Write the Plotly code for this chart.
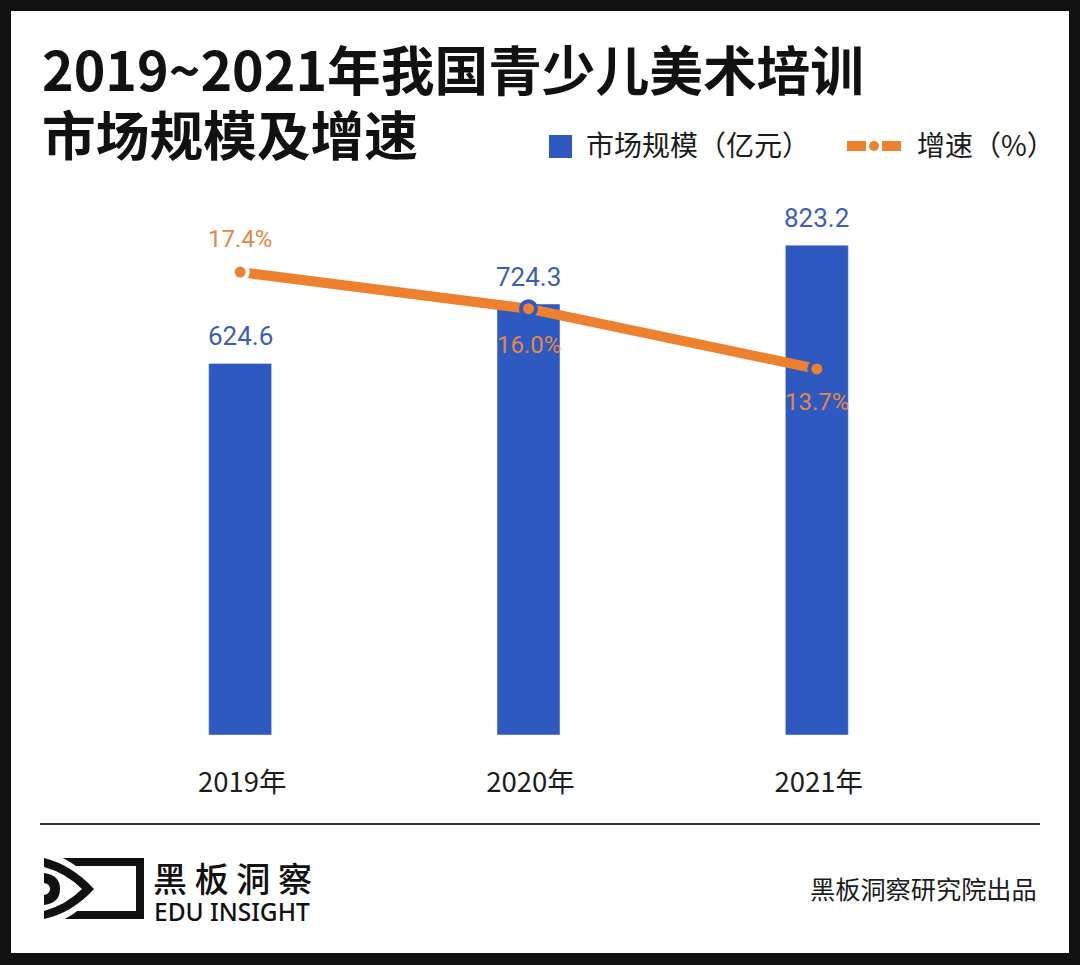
import plotly.graph_objects as go

W, H = 1080, 965
CJK = "Noto Sans CJK SC"
NUM = "Roboto, sans-serif"
BLUE = "#2d59c0"
ORANGE = "#ee8130"
BLUE_TXT = "#3b5fb5"
ORANGE_TXT = "#e58745"

categories = ["2019年", "2020年", "2021年"]
market_size = [624.6, 724.3, 823.2]
growth = [17.4, 16.0, 13.7]
growth_labels = ["17.4%", "16.0%", "13.7%"]
growth_label_shift = [33, -36, -33]
title_lines = ["2019~2021年我国青少儿美术培训", "市场规模及增速"]


def px(x):
    return x / W


def py(y):
    return 1 - y / H


def rect(x0, y0, x1, y1, color, line=None, width=0):
    return dict(type="rect", xref="paper", yref="paper", layer="below",
                x0=px(x0), y0=py(y0), x1=px(x1), y1=py(y1),
                fillcolor=color, line=dict(width=width, color=line or color))


def path(d, color):
    out = []
    for tok in d:
        if isinstance(tok, tuple):
            out.append(f"{px(tok[0]):.5f},{py(tok[1]):.5f}")
        else:
            out.append(tok)
    return dict(type="path", xref="paper", yref="paper", path=" ".join(out),
                fillcolor=color, line=dict(width=0), layer="below")


def text(s, x, y, size, color="#1c1c1c", anchor="left", family=CJK, weight=400):
    return dict(text=s, x=px(x), y=py(y), xref="paper", yref="paper", showarrow=False,
                xanchor=anchor, yanchor="middle",
                font=dict(size=size, color=color, family=family, weight=weight))


fig = go.Figure()
fig.add_trace(go.Bar(
    x=categories, y=market_size, width=63 / 288.5,
    marker=dict(color=BLUE), name="市场规模（亿元）",
))
fig.add_trace(go.Scatter(
    x=categories, y=growth, yaxis="y2", mode="lines+markers", name="增速（%）",
    line=dict(color=ORANGE, width=10), cliponaxis=False,
    marker=dict(size=15, color=ORANGE, line=dict(width=4, color=["#ffffff", BLUE, BLUE])),
))

shapes = [
    rect(11, 11, 1069, 953, "#ffffff"),
    dict(type="line", xref="paper", yref="paper", x0=px(40), x1=px(1040), y0=py(824), y1=py(824),
         line=dict(color="#333333", width=2)),
    # legend keys
    rect(549, 135, 572, 158, BLUE),
    dict(type="line", xref="paper", yref="paper", x0=px(847), x1=px(866), y0=py(146), y1=py(146),
         line=dict(color=ORANGE, width=10)),
    dict(type="line", xref="paper", yref="paper", x0=px(882), x1=px(901), y0=py(146), y1=py(146),
         line=dict(color=ORANGE, width=10)),
    dict(type="circle", xref="paper", yref="paper", x0=px(869), x1=px(879), y0=py(151), y1=py(141),
         fillcolor=ORANGE, line=dict(width=0)),
    # logo
    rect(44, 858, 144, 919, "#111111"),
    rect(44, 866, 136, 911, "#ffffff"),
    path(["M", (44, 852), "Q", (76, 858), (98, 889), "Q", (76, 920), (44, 926), "Z"], "#ffffff"),
    path(["M", (44, 858), "Q", (72, 865), (94, 889), "Q", (72, 913), (44, 919), "Z"], "#111111"),
    path(["M", (44, 867), "Q", (66, 873), (82, 889), "Q", (66, 905), (44, 911), "Z"], "#ffffff"),
    path(["M", (44, 873), "Q", (60, 875), (60, 889), "Q", (60, 903), (44, 905), "Z"], "#111111"),
    path(["M", (44, 883), "Q", (50, 884), (50, 889), "Q", (50, 894), (44, 895), "Z"], "#ffffff"),
]

annotations = [
    text(title_lines[0], 40, 67, 53.7, "#111111", weight=700),
    text(title_lines[1], 40, 133, 53.7, "#111111", weight=700),
    text("市场规模（亿元）", 584, 144, 28),
    text("增速（%）", 915, 144, 28),
    text("黑 板 洞 察", 151, 877, 34, "#111111", weight=500),
    text("EDU INSIGHT", 152, 911, 24.5, "#111111", family="Noto Sans", weight=500),
    text("黑板洞察研究院出品", 1039, 888, 25.2, anchor="right"),
]
# value labels, anchored to the data through the axes
for cat, v in zip(categories, market_size):
    annotations.append(dict(x=cat, y=v, xref="x", yref="y", text=f"{v:.1f}", showarrow=False,
                            yanchor="middle", yshift=27,
                            font=dict(family=NUM, size=26, color=BLUE_TXT)))
for cat, v, lab, shift in zip(categories, growth, growth_labels, growth_label_shift):
    annotations.append(dict(x=cat, y=v, xref="x", yref="y2", text=lab, showarrow=False,
                            yanchor="middle", yshift=shift,
                            font=dict(family=NUM, size=24, color=ORANGE_TXT)))

fig.update_layout(
    width=W, height=H, margin=dict(l=0, r=0, t=0, b=0), autosize=False,
    paper_bgcolor="#111111", plot_bgcolor="rgba(0,0,0,0)", showlegend=False,
    shapes=shapes, annotations=annotations,
    xaxis=dict(domain=[px(96), px(961)], type="category", showline=False, ticks="",
               showgrid=False, zeroline=False, automargin=False, ticklabelstandoff=28,
               ticklabelshift=2,
               tickfont=dict(family=CJK, size=27.5, color="#1c1c1c")),
    yaxis=dict(domain=[py(735), py(190)], range=[0, 916], visible=False),
    yaxis2=dict(domain=[py(735), py(190)], overlaying="y", range=[-0.3, 20.54], visible=False),
)

fig.write_html("out.html", config=dict(displayModeBar=False),
               post_script="document.body.style.margin='0';document.documentElement.style.overflow='hidden';")
